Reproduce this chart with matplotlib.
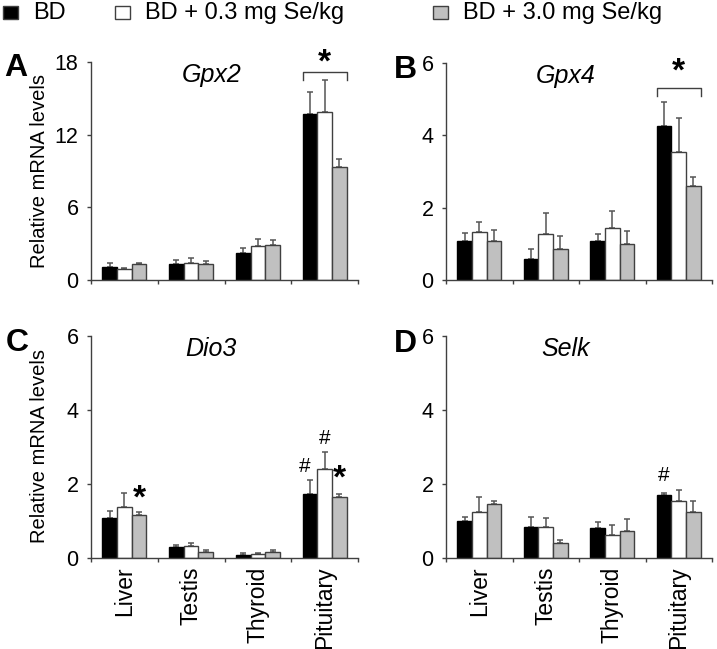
import numpy as np
import matplotlib
matplotlib.use("Agg")
import matplotlib.pyplot as plt

plt.rcParams['font.family'] = ['Liberation Sans', 'DejaVu Sans']

tissues = ["Liver", "Testis", "Thyroid", "Pituitary"]
groups = ["BD", "BD + 0.3 mg Se/kg", "BD + 3.0 mg Se/kg"]
colors = ["black", "white", "#c0c0c0"]
edges = ["black", "#404040", "#404040"]

# mean values, one row per diet group (BD, +0.3, +3.0), columns = tissues
gpx2_mean = [[1.1, 1.3, 2.2, 13.7], [0.9, 1.4, 2.8, 13.9], [1.3, 1.3, 2.9, 9.3]]
gpx2_top = [[1.4, 1.65, 2.67, 15.5], [1.0, 1.84, 3.35, 16.5], [1.4, 1.57, 3.3, 10.0]]

gpx4_mean = [[1.09, 0.58, 1.09, 4.26], [1.32, 1.27, 1.44, 3.55], [1.09, 0.87, 0.99, 2.59]]
gpx4_top = [[1.31, 0.87, 1.27, 4.92], [1.59, 1.85, 1.92, 4.49], [1.37, 1.23, 1.36, 2.86]]

dio3_mean = [[1.08, 0.31, 0.09, 1.73], [1.39, 0.33, 0.12, 2.40], [1.17, 0.15, 0.15, 1.65]]
dio3_top = [[1.27, 0.36, 0.13, 2.10], [1.75, 0.40, 0.13, 2.86], [1.24, 0.22, 0.22, 1.73]]

selk_mean = [[1.01, 0.85, 0.80, 1.70], [1.24, 0.85, 0.62, 1.54], [1.45, 0.40, 0.73, 1.24]]
selk_top = [[1.10, 1.10, 0.98, 1.77], [1.64, 1.07, 0.90, 1.83], [1.53, 0.49, 1.05, 1.53]]

panels = [
    ("A", "Gpx2", gpx2_mean, gpx2_top, 18, [0, 6, 12, 18]),
    ("B", "Gpx4", gpx4_mean, gpx4_top, 6, [0, 2, 4, 6]),
    ("C", "Dio3", dio3_mean, dio3_top, 6, [0, 2, 4, 6]),
    ("D", "Selk", selk_mean, selk_top, 6, [0, 2, 4, 6]),
]

W, H = 717, 649
fig = plt.figure(figsize=(W / 100, H / 100), dpi=100)

# axes boxes in pixels: left, top, right, bottom
boxes = [(91, 62, 358, 280), (446, 63, 712, 280), (91, 336, 358, 558), (446, 336, 712, 558)]
letter_pos = [(4, 68), (394, 70), (6, 343), (394, 344)]

bw = 0.22
x = np.arange(len(tissues))
axes = []
for i, (letter, gene, mean, top, ymax, yt) in enumerate(panels):
    l, t, r, b = boxes[i]
    ax = fig.add_axes([l / W, 1 - b / H, (r - l) / W, (b - t) / H])
    axes.append(ax)
    for j in range(3):
        m = np.array(mean[j])
        err = np.array(top[j]) - m
        ax.bar(x + (j - 1) * bw, m, bw, color=colors[j], edgecolor=edges[j], linewidth=1, zorder=2)
        ax.errorbar(x + (j - 1) * bw, m, yerr=[np.zeros_like(err), err], fmt="none",
                    ecolor="#555555", elinewidth=1.1, capsize=2.5, capthick=1.1, zorder=1)
    ax.set_xlim(-0.5, 3.5)
    ax.set_ylim(0, ymax)
    ax.set_yticks(yt)
    ax.tick_params(axis="y", labelsize=15.5, length=3, width=1, color="#404040", pad=6)
    ax.set_xticks([-0.5, 0.5, 1.5, 2.5, 3.5], minor=True)
    ax.tick_params(axis="x", which="minor", length=3, width=1, color="#404040")
    ax.tick_params(axis="x", which="major", length=0, pad=6)
    if i >= 2:
        ax.set_xticks(x)
        ax.set_xticklabels(tissues, rotation=90, fontsize=16.5)
    else:
        ax.set_xticks([])
    for s in ["top", "right"]:
        ax.spines[s].set_visible(False)
    for s in ["left", "bottom"]:
        ax.spines[s].set_color("#404040")
        ax.spines[s].set_linewidth(1)
    ax.text(0.45, 0.94, gene, transform=ax.transAxes, fontsize=18, style="italic",
            ha="center", va="center")
    lx, ly = letter_pos[i]
    fig.text(lx / W, 1 - ly / H, letter, fontsize=23, fontweight="bold", ha="left", va="center")

# y labels
fig.text(40 / W, 1 - 171 / H, "Relative mRNA levels", rotation=90, fontsize=14.5, ha="center", va="center")
fig.text(40 / W, 1 - 446 / H, "Relative mRNA levels", rotation=90, fontsize=14.5, ha="center", va="center")

# significance brackets on pituitary (panels A and B)
for ax, yb, yd, ys in [(axes[0], 17.2, 16.5, 17.9), (axes[1], 5.31, 5.08, 5.75)]:
    x0, x1 = 3 - 1.5 * bw, 3 + 1.5 * bw
    ax.plot([x0, x0, x1, x1], [yd, yb, yb, yd], color="#404040", lw=1, clip_on=False)
    ax.text(3, ys, "*", fontsize=24, fontweight="bold", ha="center", va="center", clip_on=False)

# markers in C and D
axc, axd = axes[2], axes[3]
axc.text(0 + bw, 1.58, "*", fontsize=24, fontweight="bold", ha="center", va="center")
axc.text(3 + bw, 2.12, "*", fontsize=24, fontweight="bold", ha="center", va="center")
axc.text(3 - bw - 0.08, 2.47, "#", fontsize=15, ha="center", va="center")
axc.text(3, 3.24, "#", fontsize=15, ha="center", va="center")
axd.text(3 - bw, 2.24, "#", fontsize=15, ha="center", va="center")

# legend along the top
leg_items = [(3, 33), (115, 145), (433, 463)]
for (sx, tx), lab, c in zip(leg_items, groups, colors):
    fig.patches.append(matplotlib.patches.Rectangle((sx / W, 1 - 19 / H), 15 / W, 13 / H,
                       transform=fig.transFigure, facecolor=c, edgecolor="#404040", lw=1))
    fig.text(tx / W, 1 - 13 / H, lab, fontsize=17, ha="left", va="center")

fig.savefig("out.png", dpi=100)
